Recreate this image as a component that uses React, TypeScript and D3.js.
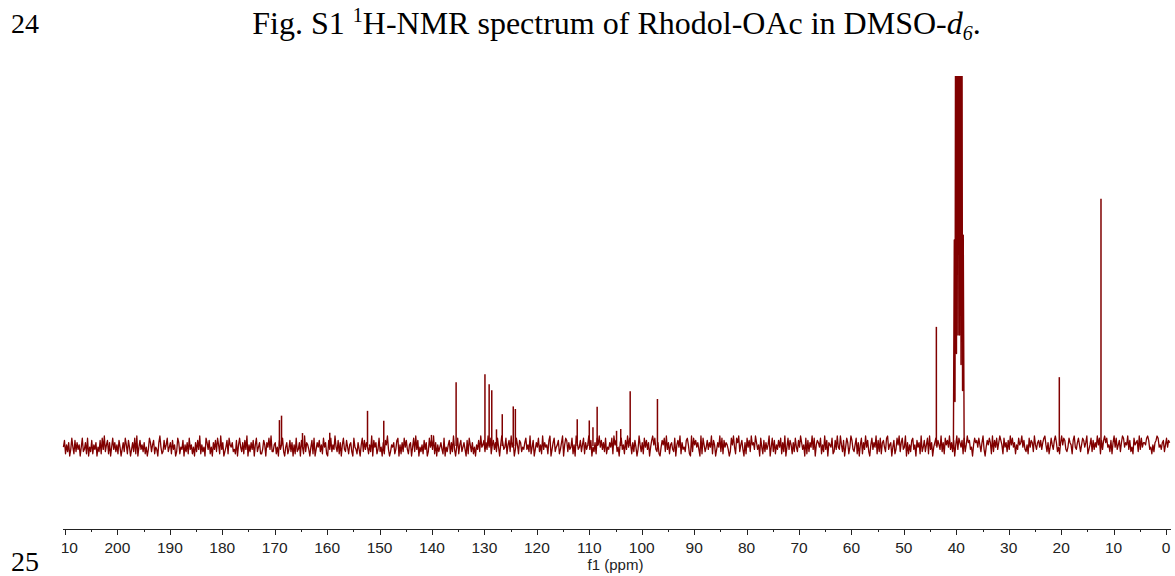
import React, { useMemo } from "react";
import * as d3 from "d3";

// ---- data ----
const TICK_VALUES = [210, 200, 190, 180, 170, 160, 150, 140, 130, 120, 110, 100, 90, 80, 70, 60, 50, 40, 30, 20, 10, 0];
const MINOR_TICKS = [205, 195, 185, 175, 165, 155, 145, 135, 125, 115, 105, 95, 85, 75, 65, 55, 45, 35, 25, 15, 5];

// baseline noise, read approximately (one digit per 0.2 ppm, starting at 210.3 ppm)
const NOISE_START = 210.3;
const NOISE_STEP = 0.2;
const NOISE_A = [
  "47152603841726350482", "36180427153604271839", "25716048362517403628", "51740362819047352614",
  "03862571430694127358", "24617350286143705261", "83514062739152408637", "14063728519360247185",
  "46231705842617390526", "37058246113750648392", "25614073582046137260", "51823607419265304718",
  "03647251846107382539", "42716058327415620843", "16305827364152907461", "38240617593025461378",
  "05162847315604829370", "42517360284739160524", "63180425716293048157", "24630718526140537294",
];
const NOISE_B = [
  "57263948157362840596", "34815729460385176243", "68352914703648251936", "45179036824571369058",
  "72634815096347258163", "59370426185947362814", "36481957240683517394", "85162740395261847360",
  "47958326104758293615", "63280574916342785109", "28574630918524736491", "75036492817465302859",
  "41869257306184729563", "96350841726359048271", "53748162904837516284", "27496350817264938057",
  "64815293706548127394", "39527048614973258160", "58163947205836491728", "16742893560471385926",
  "83490615278350746192", "47258193604",
];
const NOISE_C = [
  "68475392618574936270", "59386471825967340586", "74852693047586192748", "36975184627395846153",
  "85694732518476295367", "47368952614853796241", "69587324865179436852", "58746913582736495817",
  "37968452716948357269", "84659372418567293846", "65897341526798453672", "58476",
];

// single resonances (ppm, height)
const PEAK_PPM = [169.1, 168.7, 164.7, 159.5, 152.3, 149.2, 140.1, 135.4, 129.9, 129.1, 128.6, 127.7, 126.6, 124.5, 124.1, 112.3, 110.0, 109.3, 108.5, 104.8, 104.0, 102.2, 97.0, 43.8, 20.35, 12.4];
const PEAK_HEIGHT = [7.0, 8.2, 3.5, 3.6, 9.5, 6.8, 3.0, 17.2, 19.4, 16.7, 15.1, 4.5, 8.6, 10.7, 10.0, 7.2, 6.9, 5.1, 10.6, 4.1, 4.6, 14.8, 12.7, 32.2, 18.6, 66.8];

// DMSO-d6 solvent multiplet (ppm, intensity incl. valleys)
const DMSO_PPM = [40.55, 40.38, 40.24, 40.10, 39.96, 39.81, 39.67, 39.52, 39.38, 39.24, 39.10, 38.95, 38.81, 38.67, 38.5];
const DMSO_INT = [0, 55.7, 12, 160, 25, 320, 30, 380, 30, 320, 22, 160, 15, 57, 0];

const COLOR = "#800000";

export default function App() {
  const W = 1175;
  const H = 576;
  const axisY = 529;

  const x = useMemo(() => d3.scaleLinear().domain([210, 0]).range([65, 1166]), []);
  const y = useMemo(() => d3.scaleLinear().domain([0, 100]).range([446, 76]), []);

  const noise = useMemo(() => {
    const s = NOISE_A.join("") + NOISE_B.join("") + NOISE_C.join("");
    return s.split("").map((c, i) => ({ ppm: NOISE_START - i * NOISE_STEP, v: (Number(c) - 4.5) * 0.6 }));
  }, []);

  const line = d3
    .line<{ ppm: number; v: number }>()
    .x((d) => x(d.ppm))
    .y((d) => y(d.v));

  const noisePath = line(noise) || "";
  const dmsoPath = line(DMSO_PPM.map((p, i) => ({ ppm: p, v: DMSO_INT[i] }))) || "";

  const sans = "'Liberation Sans', Arial, sans-serif";
  const serif = "'Liberation Serif', 'Times New Roman', serif";

  return (
    <svg width={W} height={H} style={{ position: "absolute", left: 0, top: 0, background: "#fff" }}>
      <defs>
        <clipPath id="plotClip">
          <rect x={60} y={76} width={1112} height={450} />
        </clipPath>
        <clipPath id="labelClip">
          <rect x={61.5} y={520} width={1113} height={56} />
        </clipPath>
      </defs>

      {/* title */}
      <text x={11} y={33} fontFamily={serif} fontSize={28} fill="#000">24</text>
      <text x={616.5} y={34} fontFamily={serif} fontSize={32} fill="#000" textAnchor="middle">
        <tspan>Fig. S1 </tspan>
        <tspan fontSize={20} dy={-12}>1</tspan>
        <tspan dy={12}>H-NMR spectrum of Rhodol-OAc in DMSO-</tspan>
        <tspan fontStyle="italic">d</tspan>
        <tspan fontStyle="italic" fontSize={20} dy={6}>6</tspan>
        <tspan dy={-6}>.</tspan>
      </text>
      <text x={11} y={571} fontFamily={serif} fontSize={28} fill="#000">25</text>

      {/* spectrum */}
      <g clipPath="url(#plotClip)" fill="none" stroke={COLOR} strokeLinejoin="round">
        <path d={noisePath} strokeWidth={1.3} />
        {PEAK_PPM.map((p, i) => (
          <line key={i} x1={x(p)} x2={x(p)} y1={y(0)} y2={y(PEAK_HEIGHT[i])} strokeWidth={1.5} />
        ))}
        <path d={dmsoPath} strokeWidth={1.4} />
      </g>

      {/* axis */}
      <g stroke="#222" strokeWidth={1}>
        <line x1={63} x2={1171} y1={axisY + 0.5} y2={axisY + 0.5} />
        {TICK_VALUES.map((t) => (
          <line key={t} x1={Math.round(x(t)) + 0.5} x2={Math.round(x(t)) + 0.5} y1={axisY} y2={axisY + 6} />
        ))}
        {MINOR_TICKS.map((t) => (
          <line key={t} x1={Math.round(x(t)) + 0.5} x2={Math.round(x(t)) + 0.5} y1={axisY} y2={axisY + 3} />
        ))}
      </g>
      <g clipPath="url(#labelClip)" fontFamily={sans} fontSize={15.5} fill="#222" textAnchor="middle">
        {TICK_VALUES.map((t) => (
          <text key={t} x={x(t)} y={553}>{t}</text>
        ))}
      </g>
      <text x={615.5} y={570} fontFamily={sans} fontSize={15} fill="#222" textAnchor="middle">f1 (ppm)</text>
    </svg>
  );
}
